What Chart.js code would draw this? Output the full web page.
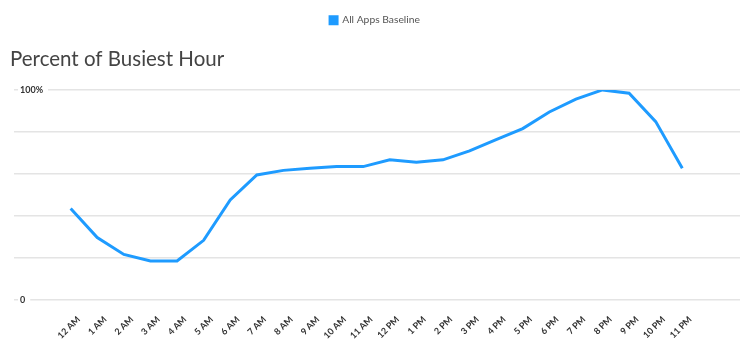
<!DOCTYPE html>
<html lang="en">
<head>
    <meta charset="UTF-8">
    <title>Percent of Busiest Hour</title>
    <script src="https://cdn.jsdelivr.net/npm/chart.js"></script>
    <style>
        html, body {
            margin: 0;
            padding: 0;
            background: #fff;
        }

        /* Fixed size to match the screenshot */
        #chart-container {
            width: 756px;
            height: 361px;
        }
    </style>
</head>
<body>

    <div id="chart-container">
        <canvas id="busyChart"></canvas>
    </div>

    <script>
        // Hour labels along the x axis
        const hours = ['12 AM', '1 AM', '2 AM', '3 AM', '4 AM', '5 AM', '6 AM', '7 AM', '8 AM', '9 AM', '10 AM', '11 AM',
                       '12 PM', '1 PM', '2 PM', '3 PM', '4 PM', '5 PM', '6 PM', '7 PM', '8 PM', '9 PM', '10 PM', '11 PM'];

        // Percent of the busiest hour
        const baseline = [43.5, 29.7, 21.7, 18.6, 18.6, 28.4, 47.6, 59.5, 61.7, 62.7, 63.5, 63.5,
                          66.7, 65.6, 66.7, 71.0, 76.3, 81.6, 89.5, 95.6, 100, 98.4, 84.9, 62.7];

        // Only these y values get a label
        const yLabels = { 0: '0', 100: '100%' };

        const ctx = document.getElementById('busyChart').getContext('2d');
        new Chart(ctx, {
            type: 'line',
            data: {
                datasets: [{
                    label: 'All Apps Baseline',
                    data: baseline.map((v, i) => ({ x: i, y: v })),
                    borderColor: '#1E9BFF',
                    backgroundColor: '#1E9BFF',
                    borderWidth: 3,
                    pointRadius: 0,
                    tension: 0
                }]
            },
            options: {
                responsive: true,
                maintainAspectRatio: false,
                animation: false,
                layout: {
                    padding: { left: 10, right: 16, top: 5, bottom: 14 }
                },
                plugins: {
                    legend: {
                        weight: 3000,
                        labels: {
                            boxWidth: 7,
                            boxHeight: 7,
                            color: '#555',
                            font: { family: 'Lato', size: 10.3 }
                        }
                    },
                    title: {
                        display: true,
                        text: 'Percent of Busiest Hour',
                        align: 'start',
                        color: '#444',
                        font: { family: 'Lato', size: 20.5, weight: 'normal' },
                        padding: { top: 12, bottom: 18 }
                    },
                    tooltip: { enabled: false }
                },
                scales: {
                    x: {
                        type: 'linear',
                        min: -1.98,
                        max: 25.17,
                        grid: { display: false },
                        border: { display: false },
                        afterBuildTicks: scale => {
                            scale.ticks = hours.map((_, i) => ({ value: i }));
                        },
                        ticks: {
                            autoSkip: false,
                            minRotation: 45,
                            maxRotation: 45,
                            labelOffset: 8,
                            padding: 6,
                            color: '#333',
                            font: { family: 'Lato', size: 9, weight: 'bold' },
                            callback: value => hours[value]
                        }
                    },
                    y: {
                        min: 0,
                        max: 100,
                        border: { display: false },
                        grid: {
                            color: '#e4e4e4',
                            lineWidth: 1.5,
                            tickLength: 4
                        },
                        ticks: {
                            stepSize: 20,
                            mirror: true,
                            padding: 2,
                            showLabelBackdrop: true,
                            backdropColor: c => (c.tick && yLabels[c.tick.value] !== undefined) ? '#fff' : 'rgba(0,0,0,0)',
                            backdropPadding: { left: 2, right: 5, top: 2, bottom: 2 },
                            color: '#333',
                            font: { family: 'Lato', size: 9, weight: 'bold' },
                            callback: value => yLabels[value] !== undefined ? yLabels[value] : ''
                        }
                    }
                }
            }
        });
    </script>
</body>
</html>
